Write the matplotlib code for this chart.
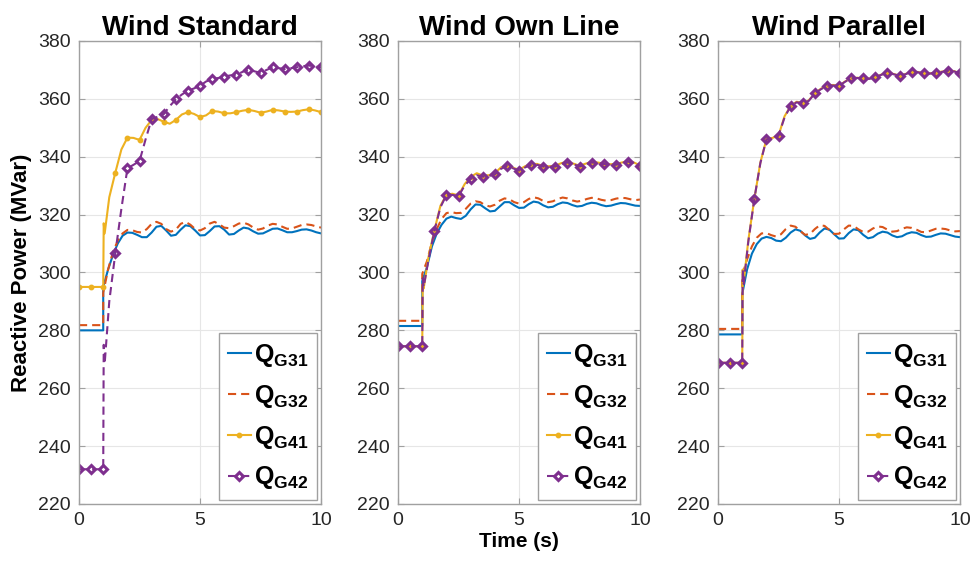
import numpy as np
import matplotlib
matplotlib.use("Agg")
import matplotlib.pyplot as plt

plt.rcParams['font.family'] = ['Liberation Sans', 'DejaVu Sans']
plt.rcParams['mathtext.fontset'] = 'custom'
plt.rcParams['mathtext.rm'] = 'Liberation Sans'
plt.rcParams['mathtext.bf'] = 'Liberation Sans:bold'

titles = ["Wind Standard", "Wind Own Line", "Wind Parallel"]
labels = [r"$\mathbf{Q_{G31}}$", r"$\mathbf{Q_{G32}}$", r"$\mathbf{Q_{G41}}$", r"$\mathbf{Q_{G42}}$"]

# time grid for G31/G32 (step at t = 1 s)
t_fast = [0, 1.0, 1.0, 1.2, 1.4, 1.6, 1.8, 2.0, 2.2, 2.4, 2.6, 2.8, 3.0, 3.2, 3.4, 3.6, 3.8,
          4.0, 4.2, 4.4, 4.6, 4.8, 5.0, 5.2, 5.4, 5.6, 5.8, 6.0, 6.2, 6.4, 6.6, 6.8, 7.0,
          7.2, 7.4, 7.6, 7.8, 8.0, 8.2, 8.4, 8.6, 8.8, 9.0, 9.2, 9.4, 9.6, 9.8, 10.0]
# time grid for G41/G42
t_slow = [0, 0.5, 1.0, 1.02, 1.06, 1.25, 1.5, 1.75, 2.0, 2.25, 2.5, 2.75, 3.0, 3.25, 3.5, 3.75,
          4.0, 4.25, 4.5, 4.75, 5.0, 5.25, 5.5, 5.75, 6.0, 6.25, 6.5, 6.75, 7.0, 7.25, 7.5,
          7.75, 8.0, 8.25, 8.5, 8.75, 9.0, 9.25, 9.5, 9.75, 10.0]

# --- Wind Standard ---
std_g31 = [280, 280, 295, 301, 306, 310, 312.7, 313.8, 313.7, 313.0, 312.2, 312.2, 313.8,
           315.8, 316.1, 314.5, 312.7, 313.0, 314.8, 316.3, 316.0, 314.5, 312.8, 312.9, 314.3,
           315.9, 316.0, 314.8, 313.1, 313.3, 314.5, 315.5, 315.2, 314.2, 313.4, 313.5, 314.3,
           315.1, 315.2, 314.6, 313.9, 313.9, 314.3, 314.8, 314.9, 314.5, 313.9, 313.5]
std_g32 = [281.8, 281.8, 293, 301, 307, 311, 313.5, 314.7, 314.6, 314.0, 313.8, 315.0, 316.8,
           317.5, 316.8, 315.0, 314.1, 314.8, 316.8, 317.5, 316.5, 315.0, 314.5, 315.3, 316.9,
           317.5, 316.6, 315.5, 315.3, 316.0, 316.9, 317.2, 316.6, 315.5, 314.8, 315.2, 316.2,
           316.8, 316.6, 315.8, 315.1, 315.2, 315.8, 316.4, 316.6, 316.4, 315.9, 315.5]
std_g41 = [295, 295, 295, 317, 313.5, 326, 334.5, 342.5, 346.6, 346.5, 345.8, 350, 352.7,
           353.0, 352.1, 351.4, 352.7, 354.6, 355.4, 354.8, 353.7, 354.3, 355.8, 355.6, 355.0,
           355.0, 355.4, 355.9, 356.2, 355.8, 355.2, 355.6, 356.2, 356.0, 355.6, 355.5, 355.6,
           356.1, 356.4, 356.0, 355.4]
std_g42 = [232, 232, 232, 275, 268.5, 290, 306.7, 322, 336, 337.2, 338.5, 346, 353,
           353.8, 354.7, 357.5, 359.8, 361.5, 362.8, 363.6, 364.5, 366.0, 366.8, 367.2, 367.7,
           368.1, 368.3, 369.3, 370.0, 369.5, 369.0, 370.0, 370.9, 370.6, 370.3, 370.6, 370.9,
           371.3, 371.5, 371.2, 370.9]

# --- Wind Own Line ---
own_g31 = [281.5, 281.5, 297, 302, 309, 313.5, 316.5, 318.6, 319.3, 318.8, 318.5, 319.6, 321.8,
           323.5, 323.4, 322.2, 321.1, 321.3, 322.8, 324.3, 324.3, 323.2, 322.3, 322.4, 323.6,
           324.5, 324.2, 323.2, 322.5, 322.7, 323.6, 324.2, 324.0, 323.3, 322.8, 323.0, 323.7,
           324.1, 323.9, 323.3, 322.9, 323.1, 323.6, 324.0, 323.9, 323.5, 323.1, 323.0]
own_g32 = [283.3, 283.3, 299.5, 304, 310.5, 315, 318.5, 320.5, 320.9, 320.5, 320.6, 322.0, 323.8,
           324.6, 324.3, 323.2, 322.8, 323.4, 324.8, 325.6, 325.3, 324.3, 323.8, 324.3, 325.4,
           326.0, 325.6, 324.7, 324.3, 324.6, 325.4, 325.9, 325.6, 324.9, 324.5, 324.8, 325.4,
           325.8, 325.6, 325.1, 324.8, 325.0, 325.5, 325.8, 325.7, 325.3, 325.0, 325.2]
own_g41 = [274.5, 274.5, 274.5, 296, 294.5, 305, 314.5, 323, 326.9, 327.2, 326.6, 330.5, 333,
           334.3, 333.5, 333.6, 334.3, 336.3, 337.0, 336.2, 335.5, 336.7, 337.5, 337.5, 336.8,
           336.7, 336.9, 337.8, 338.2, 337.6, 336.9, 337.6, 338.2, 338.0, 337.6, 337.4, 337.5,
           338.0, 338.5, 338.0, 337.0]
own_g42 = [274.5, 274.5, 274.5, 298, 295, 304, 314.3, 322.5, 326.8, 326.8, 326.4, 330, 332.3,
           333.6, 333.1, 333.3, 333.9, 335.8, 336.8, 336.0, 335.2, 336.3, 337.2, 337.2, 336.6,
           336.5, 336.6, 337.5, 338.0, 337.4, 336.6, 337.3, 338.0, 337.8, 337.5, 337.2, 337.2,
           337.8, 338.3, 337.8, 336.8]

# --- Wind Parallel ---
par_g31 = [278.6, 278.6, 292.5, 301, 306.5, 309.8, 311.7, 312.3, 311.9, 311.0, 310.8, 312.0, 313.8,
           314.9, 314.4, 312.8, 311.6, 312.0, 313.8, 315.2, 314.8, 313.2, 311.7, 311.8, 313.6,
           314.9, 314.6, 313.0, 311.8, 312.2, 313.4, 314.1, 313.8, 312.8, 312.2, 312.5, 313.4,
           313.9, 313.7, 312.9, 312.3, 312.4, 313.0, 313.5, 313.4, 312.9, 312.4, 312.2]
par_g32 = [280.5, 280.5, 299, 304.5, 309, 312, 313.5, 313.6, 312.9, 312.4, 313.2, 315.0, 316.2,
           315.8, 314.3, 313.0, 313.3, 315.0, 316.3, 316.1, 314.7, 313.3, 313.4, 314.9, 316.2,
           316.1, 314.9, 314.0, 314.1, 315.2, 315.9, 315.7, 314.8, 314.1, 314.3, 315.1, 315.6,
           315.4, 314.8, 314.0, 313.9, 314.5, 315.1, 315.2, 315.0, 314.5, 314.2, 314.3]
par_g41 = [268.8, 268.8, 268.8, 301, 296.5, 311, 325.4, 338, 346.0, 346.5, 347.3, 354, 357.5,
           359, 358.5, 359.5, 361.9, 363.5, 364.5, 364.8, 364.5, 366.0, 367.1, 367.3, 367.1,
           367.0, 367.5, 368.4, 369.1, 368.6, 368.0, 368.6, 369.4, 369.3, 368.8, 368.8, 369.1,
           369.4, 369.7, 369.6, 368.8]
par_g42 = [268.8, 268.8, 268.8, 301, 296, 310.5, 325.4, 337.8, 346.0, 346.3, 347.3, 353.6, 357.5,
           358.8, 358.5, 359.3, 361.9, 363.3, 364.5, 364.6, 364.5, 365.9, 367.1, 367.2, 367.1,
           366.9, 367.5, 368.3, 369.1, 368.5, 368.0, 368.5, 369.4, 369.2, 368.8, 368.7, 369.1,
           369.3, 369.7, 369.5, 368.8]

panels = [
    (std_g31, std_g32, std_g41, std_g42),
    (own_g31, own_g32, own_g41, own_g42),
    (par_g31, par_g32, par_g41, par_g42),
]

c_blue = "#0072BD"
c_orange = "#D95319"
c_yellow = "#EDB120"
c_purple = "#7E2F8E"

# markers every 0.5 s
mark_idx = [i for i, t in enumerate(t_slow) if abs(t * 2 - round(t * 2)) < 1e-9]

fig = plt.figure(figsize=(9.72, 5.65), dpi=100)
lefts = [0.0813, 0.4095, 0.7387]
axes = []
for k, (g31, g32, g41, g42) in enumerate(panels):
    ax = fig.add_axes([lefts[k], 0.108, 0.249, 0.8195])
    axes.append(ax)
    ax.plot(t_fast, g31, color=c_blue, lw=1.5, label=labels[0])
    ax.plot(t_fast, g32, color=c_orange, lw=1.5, dashes=(3.9, 2.4), label=labels[1])
    ax.plot(t_slow, g41, color=c_yellow, lw=1.5, marker="o", ms=3.2,
            markevery=mark_idx, label=labels[2])
    ax.plot(t_slow, g42, color=c_purple, lw=1.5, dashes=(3.9, 2.4), marker="D", ms=4.0,
            mfc="none", mew=2.2, markevery=mark_idx, label=labels[3])

    ax.set_xlim(0, 10)
    ax.set_ylim(220, 380)
    ax.set_xticks([0, 5, 10])
    ax.set_yticks(np.arange(220, 381, 20))
    ax.grid(True, color="#e6e6e6", lw=0.8)
    ax.set_axisbelow(True)
    for s in ax.spines.values():
        s.set_color("#a0a0a0")
        s.set_linewidth(1.0)
    ax.tick_params(direction="in", length=4, width=0.8, color="#a0a0a0",
                   labelsize=14, labelcolor="#262626", top=True, right=True, pad=6)
    ax.set_title(titles[k], fontsize=20, fontweight="bold", pad=4)

    leg = ax.legend(loc="lower right", fontsize=18, handlelength=0.95, handletextpad=0.12,
                    borderpad=0.35, labelspacing=0.55, fancybox=False, framealpha=1,
                    borderaxespad=0.15, numpoints=1)
    leg.get_frame().set_edgecolor("#a0a0a0")
    leg.get_frame().set_linewidth(1.0)

axes[0].set_ylabel("Reactive Power (MVar)", fontsize=16, fontweight="bold", labelpad=4)
axes[1].set_xlabel("Time (s)", fontsize=15, fontweight="bold", labelpad=2)

fig.savefig("out.png", dpi=100)
